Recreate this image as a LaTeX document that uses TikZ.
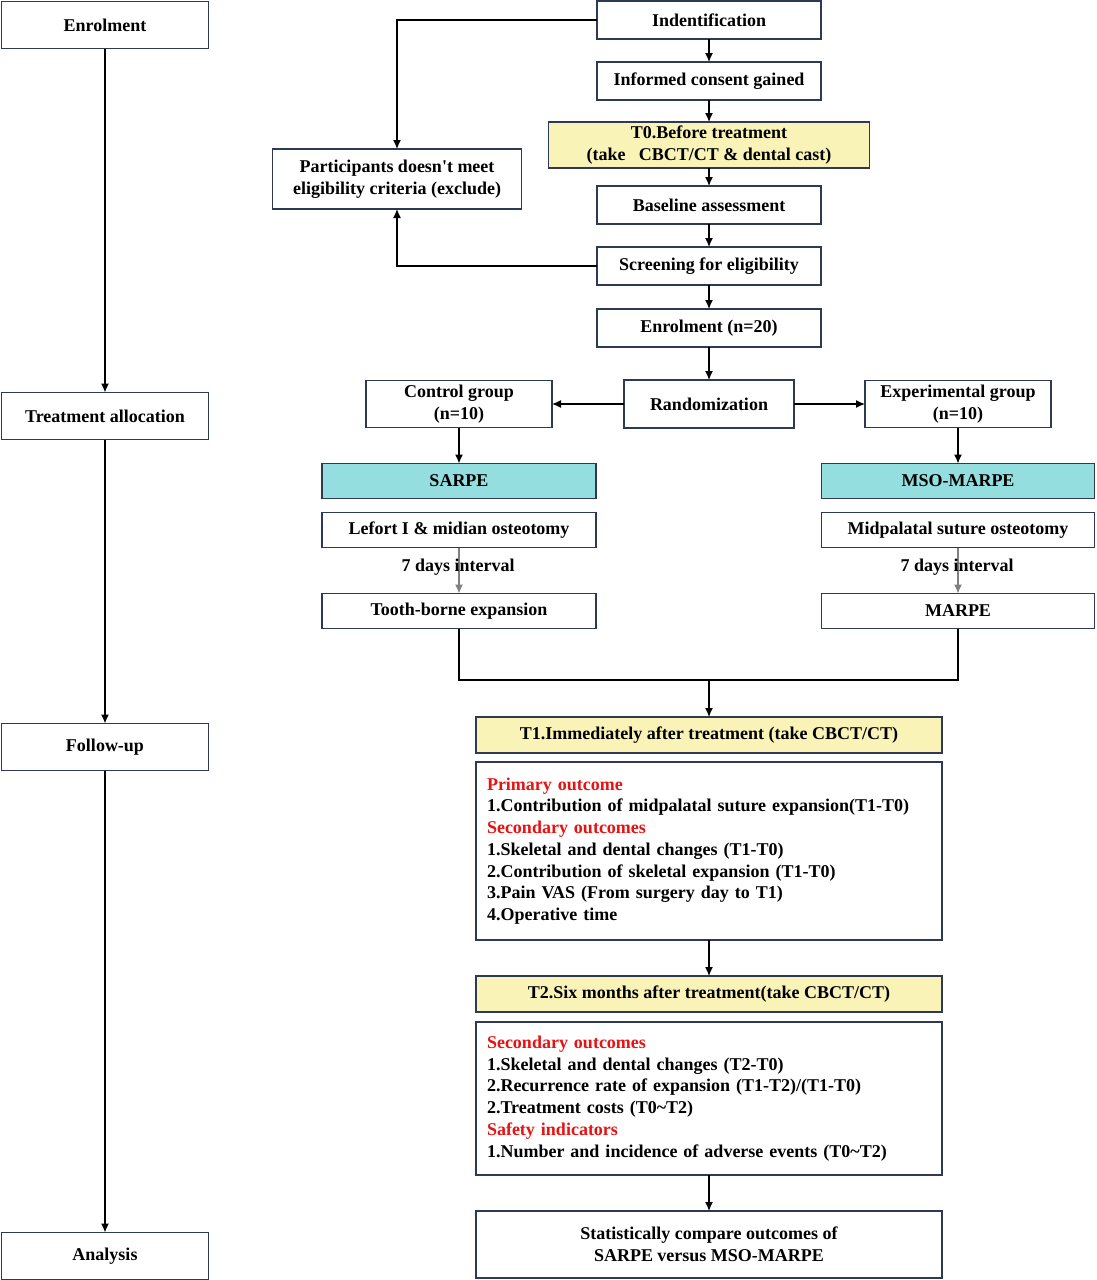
\documentclass[tikz,border=0pt]{standalone}
\usepackage{fontspec}
\setmainfont{Liberation Serif}
\usetikzlibrary{arrows.meta, calc}
\definecolor{boxline}{RGB}{46,58,84}
\definecolor{stageyellow}{RGB}{250,243,184}
\definecolor{armcyan}{RGB}{148,222,224}
\definecolor{outred}{RGB}{232,18,18}
\tikzset{box/.style={draw=boxline,line width=1.5pt,fill=white,inner sep=1mm,outer sep=0pt,align=center,font=\bfseries\fontsize{18}{21.7}\selectfont}}
\tikzset{stage/.style={box,fill=stageyellow}}
\tikzset{arm/.style={box,fill=armcyan}}
\tikzset{outbox/.style={box,minimum width=466,text width=444,align=left}}
\tikzset{link/.style={line width=1.3pt}}
\begin{document}
\begin{tikzpicture}[x=1pt,y=-1pt,>={Latex[length=9pt,width=8pt]}]
    \useasboundingbox (0,0) rectangle (1096,1280);
    % left column
    \node[box,minimum width=207,minimum height=47](En) at (105,25){Enrolment};
    \node[box,minimum width=207,minimum height=47](Ta) at (105,416){Treatment allocation};
    \node[box,minimum width=207,minimum height=47](Fu) at (105,747){Follow-up};
    \node[box,minimum width=207,minimum height=47](An) at (105,1256){Analysis};
    \draw[link,->] (En) -- (Ta);
    \draw[link,->] (Ta) -- (Fu);
    \draw[link,->] (Fu) -- (An);

    % screening
    \node[box,minimum width=224,minimum height=38](Id) at (709,20){Indentification};
    \node[box,minimum width=224,minimum height=38](Ic) at (709,81){Informed consent gained};
    \node[stage,minimum width=321,minimum height=46,inner sep=0pt](T0) at (709,145){T0.Before treatment\\(take\ \ \ CBCT/CT \& dental cast)};
    \node[box,minimum width=249,minimum height=60](Px) at (397,179){Participants doesn\textquotesingle t meet\\eligibility criteria (exclude)};
    \node[box,minimum width=224,minimum height=38](Ba) at (709,205){Baseline assessment};
    \node[box,minimum width=224,minimum height=38](Sc) at (709,266){Screening for eligibility};
    \node[box,minimum width=224,minimum height=38](Er) at (709,328){Enrolment (n=20)};
    \draw[link,->] (Id) -- (Ic);
    \draw[link,->] (Ic) -- (T0);
    \draw[link,->] (T0) -- (Ba);
    \draw[link,->] (Ba) -- (Sc);
    \draw[link,->] (Sc) -- (Er);
    \draw[link,->] (Id.west) -| (Px);
    \draw[link,->] (Sc.west) -| (Px);

    % allocation
    \node[box,minimum width=170,minimum height=48](Ra) at (709,404){Randomization};
    \node[box,minimum width=186,minimum height=47,inner sep=0pt](Cg) at (459,404){Control group\\(n=10)};
    \node[box,minimum width=186,minimum height=47,inner sep=0pt](Eg) at (958,404){Experimental group\\(n=10)};
    \draw[link,->] (Er) -- (Ra);
    \draw[link,->] (Ra) -- (Cg);
    \draw[link,->] (Ra) -- (Eg);

    % arms
    \node[arm,minimum width=274,minimum height=35](Sa) at (459,481){SARPE};
    \node[arm,minimum width=273,minimum height=35](Mm) at (958,481){MSO-MARPE};
    \node[box,minimum width=274,minimum height=35](Lf) at (459,530){Lefort I \& midian osteotomy};
    \node[box,minimum width=273,minimum height=35](Mp) at (958,530){Midpalatal suture osteotomy};
    \node[box,minimum width=274,minimum height=35](Tb) at (459,611){Tooth-borne expansion};
    \node[box,minimum width=273,minimum height=35](Ma) at (958,611){MARPE};
    \draw[link,->] (Cg) -- (Sa);
    \draw[link,->] (Eg) -- (Mm);
    \draw[link,->,gray] (Lf) -- (Tb);
    \draw[link,->,gray] (Mp) -- (Ma);
    \node[font=\bfseries\fontsize{18}{21.7}\selectfont](D1) at (458,567){7 days interval};
    \node[font=\bfseries\fontsize{18}{21.7}\selectfont](D2) at (957,567){7 days interval};

    % follow-up
    \coordinate (J) at (709,680);
    \node[stage,minimum width=466,minimum height=36](T1) at (709,735){T1.Immediately after treatment (take CBCT/CT)};
    \node[outbox,minimum height=178](O1) at (709,851){\textcolor{outred}{Primary outcome}\\
        1.Contribution of midpalatal suture expansion(T1-T0)\\
        \textcolor{outred}{Secondary outcomes}\\
        1.Skeletal and dental changes (T1-T0)\\
        2.Contribution of skeletal expansion (T1-T0)\\
        3.Pain VAS (From surgery day to T1)\\
        4.Operative time};
    \node[stage,minimum width=466,minimum height=36](T2) at (709,994){T2.Six months after treatment(take CBCT/CT)};
    \node[outbox,minimum height=153](O2) at (709,1098.5){\textcolor{outred}{Secondary outcomes}\\
        1.Skeletal and dental changes (T2-T0)\\
        2.Recurrence rate of expansion (T1-T2)/(T1-T0)\\
        2.Treatment costs (T0\textasciitilde T2)\\
        \textcolor{outred}{Safety indicators}\\
        1.Number and incidence of adverse events (T0\textasciitilde T2)};
    \node[box,minimum width=466,minimum height=67,inner sep=0pt](St) at (709,1244.5){Statistically compare outcomes of\\SARPE versus MSO-MARPE};
    \draw[link] (Tb) |- (J);
    \draw[link] (Ma) |- (J);
    \draw[link,->] (J) -- (T1);
    \draw[link,->] (O1) -- (T2);
    \draw[link,->] (O2) -- (St);
\end{tikzpicture}
\end{document}
